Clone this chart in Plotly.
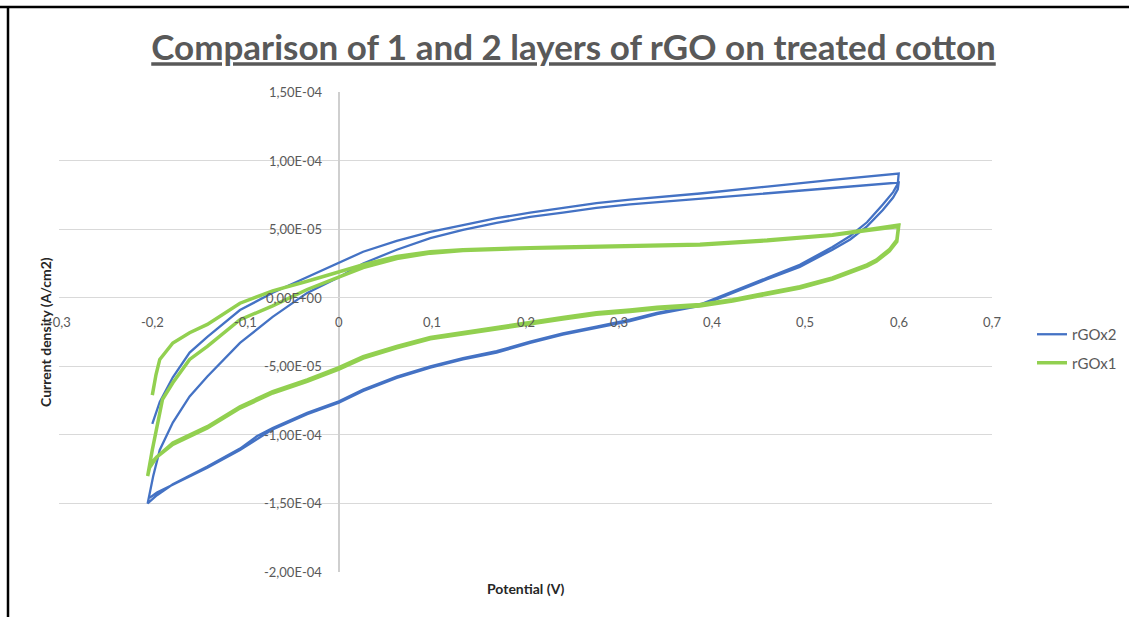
import plotly.graph_objects as go

# ---------------- data ----------------
# rGOx2 : two CV cycles, in scan order
rgox2_potential = [
    # cycle 1, forward
    -0.200, -0.192, -0.178, -0.160, -0.141, -0.106, -0.071, -0.034, 0.000, 0.026,
    0.062, 0.098, 0.133, 0.169, 0.205, 0.240, 0.276, 0.312, 0.387, 0.459, 0.529, 0.600,
    # cycle 1, reverse
    0.599, 0.594, 0.583, 0.566, 0.548, 0.529, 0.494, 0.459, 0.422, 0.387, 0.341,
    0.312, 0.276, 0.240, 0.205, 0.169, 0.133, 0.098, 0.062, 0.026, 0.000, -0.034,
    -0.071, -0.088, -0.106, -0.141, -0.178, -0.195, -0.205,
    # cycle 2, forward
    -0.199, -0.192, -0.178, -0.160, -0.141, -0.106, -0.071, -0.034, 0.000, 0.026,
    0.062, 0.098, 0.133, 0.169, 0.205, 0.240, 0.276, 0.312, 0.387, 0.459, 0.529, 0.600,
    # cycle 2, reverse
    0.599, 0.594, 0.583, 0.566, 0.548, 0.529, 0.494, 0.459, 0.422, 0.387, 0.341,
    0.312, 0.276, 0.240, 0.205, 0.169, 0.133, 0.098, 0.062, 0.026, 0.000, -0.034,
    -0.071, -0.088, -0.106, -0.141, -0.178, -0.195, -0.203,
]
rgox2_current = [
    -9.2e-5, -7.6e-5, -5.8e-5, -4.0e-5, -2.85e-5, -9.0e-6, 3.6e-6, 1.5e-5, 2.6e-5, 3.35e-5,
    4.15e-5, 4.8e-5, 5.3e-5, 5.8e-5, 6.2e-5, 6.55e-5, 6.9e-5, 7.15e-5, 7.6e-5, 8.1e-5, 8.6e-5, 9.05e-5,
    8.3e-5, 7.7e-5, 6.8e-5, 5.5e-5, 4.5e-5, 3.7e-5, 2.4e-5, 1.45e-5, 4.5e-6, -5.0e-6, -1.1e-5,
    -1.6e-5, -2.1e-5, -2.6e-5, -3.2e-5, -3.9e-5, -4.4e-5, -5.0e-5, -5.75e-5, -6.7e-5, -7.55e-5, -8.4e-5,
    -9.5e-5, -1.01e-4, -1.10e-4, -1.23e-4, -1.36e-4, -1.44e-4, -1.50e-4,
    -1.30e-4, -1.11e-4, -9.1e-5, -7.2e-5, -5.75e-5, -3.3e-5, -1.4e-5, 3.5e-6, 1.5e-5, 2.5e-5,
    3.5e-5, 4.35e-5, 4.95e-5, 5.45e-5, 5.9e-5, 6.2e-5, 6.55e-5, 6.8e-5, 7.2e-5, 7.6e-5, 8.0e-5, 8.4e-5,
    7.9e-5, 7.3e-5, 6.4e-5, 5.2e-5, 4.25e-5, 3.5e-5, 2.25e-5, 1.35e-5, 3.5e-6, -6.0e-6, -1.2e-5,
    -1.7e-5, -2.2e-5, -2.7e-5, -3.3e-5, -4.0e-5, -4.5e-5, -5.1e-5, -5.85e-5, -6.8e-5, -7.65e-5, -8.5e-5,
    -9.6e-5, -1.03e-4, -1.11e-4, -1.24e-4, -1.36e-4, -1.42e-4, -1.46e-4,
]

# rGOx1 : two CV cycles, in scan order
rgox1_potential = [
    # cycle 1, forward
    -0.200, -0.196, -0.192, -0.178, -0.160, -0.141, -0.106, -0.071, -0.034, 0.000,
    0.026, 0.062, 0.098, 0.133, 0.169, 0.205, 0.240, 0.276, 0.312, 0.387, 0.459,
    0.529, 0.566, 0.600,
    # cycle 1, reverse
    0.598, 0.590, 0.576, 0.566, 0.529, 0.494, 0.459, 0.422, 0.387, 0.341, 0.312,
    0.276, 0.240, 0.205, 0.169, 0.133, 0.098, 0.062, 0.026, 0.000, -0.034, -0.071,
    -0.106, -0.141, -0.178, -0.195, -0.203, -0.205,
    # cycle 2, forward
    -0.200, -0.189, -0.178, -0.160, -0.141, -0.106, -0.071, -0.034, 0.000,
    0.026, 0.062, 0.098, 0.133, 0.169, 0.205, 0.240, 0.276, 0.312, 0.387, 0.459,
    0.529, 0.566, 0.600,
    # cycle 2, reverse
    0.598, 0.590, 0.576, 0.566, 0.529, 0.494, 0.459, 0.422, 0.387, 0.341, 0.312,
    0.276, 0.240, 0.205, 0.169, 0.133, 0.098, 0.062, 0.026, 0.000, -0.034, -0.071,
    -0.106, -0.141, -0.178, -0.195, -0.203,
]
rgox1_current = [
    -7.1e-5, -5.6e-5, -4.5e-5, -3.3e-5, -2.55e-5, -1.95e-5, -4.0e-6, 5.0e-6, 1.2e-5, 1.9e-5,
    2.4e-5, 3.0e-5, 3.35e-5, 3.5e-5, 3.6e-5, 3.65e-5, 3.7e-5, 3.75e-5, 3.75e-5, 3.9e-5, 4.2e-5,
    4.6e-5, 4.95e-5, 5.3e-5,
    4.2e-5, 3.5e-5, 2.75e-5, 2.4e-5, 1.45e-5, 8.0e-6, 3.5e-6, -1.5e-6, -5.0e-6, -7.0e-6, -9.0e-6,
    -1.1e-5, -1.45e-5, -1.8e-5, -2.2e-5, -2.5e-5, -2.9e-5, -3.55e-5, -4.3e-5, -5.1e-5, -6.0e-5, -6.85e-5,
    -7.95e-5, -9.4e-5, -1.06e-4, -1.16e-4, -1.24e-4, -1.30e-4,
    -1.11e-4, -7.4e-5, -6.2e-5, -4.5e-5, -3.55e-5, -1.6e-5, -6.0e-6, 6.0e-6, 1.5e-5,
    2.2e-5, 2.85e-5, 3.25e-5, 3.45e-5, 3.55e-5, 3.6e-5, 3.65e-5, 3.7e-5, 3.7e-5, 3.85e-5, 4.15e-5,
    4.55e-5, 4.9e-5, 5.2e-5,
    4.1e-5, 3.4e-5, 2.65e-5, 2.3e-5, 1.35e-5, 7.0e-6, 2.5e-6, -2.5e-6, -6.0e-6, -8.0e-6, -1.0e-5,
    -1.2e-5, -1.55e-5, -1.9e-5, -2.3e-5, -2.6e-5, -3.0e-5, -3.65e-5, -4.4e-5, -5.2e-5, -6.1e-5, -6.95e-5,
    -8.05e-5, -9.5e-5, -1.07e-4, -1.16e-4, -1.22e-4,
]

x_ticks = [-0.3, -0.2, -0.1, 0.0, 0.1, 0.2, 0.3, 0.4, 0.5, 0.6, 0.7]
x_tick_labels = ["-0,3", "-0,2", "-0,1", "0", "0,1", "0,2", "0,3", "0,4", "0,5", "0,6", "0,7"]
y_ticks = [1.5e-4, 1.0e-4, 5.0e-5, 0.0, -5.0e-5, -1.0e-4, -1.5e-4, -2.0e-4]
y_tick_labels = ["1,50E-04", "1,00E-04", "5,00E-05", "0,00E+00",
                 "-5,00E-05", "-1,00E-04", "-1,50E-04", "-2,00E-04"]

title_text = "Comparison of 1 and 2 layers of rGO on treated cotton"
x_title = "Potential (V)"
y_title = "Current density (A/cm2)"

# ---------------- figure ----------------
W, H = 1129, 617
ML, MR, MT, MB = 59, 137, 92, 45
PW, PH = W - ML - MR, H - MT - MB


def px(xp):
    return (xp - ML) / PW


def py(yp):
    return (H - MB - yp) / PH


TICK_FONT = dict(family="Lato, 'Open Sans', sans-serif", size=13, color="#595959")
GRAY = "#595959"

fig = go.Figure()
fig.add_trace(go.Scatter(
    x=rgox2_potential, y=rgox2_current, mode="lines", name="rGOx2",
    line=dict(color="#4472C4", width=2.3), legendgroup="a",
))
fig.add_trace(go.Scatter(
    x=rgox1_potential, y=rgox1_current, mode="lines", name="rGOx1",
    line=dict(color="#92D050", width=3.5), legendgroup="b",
))

annotations = []
for v, t in zip(x_ticks, x_tick_labels):
    annotations.append(dict(x=v, y=0, xref="x", yref="y", text=t, showarrow=False,
                            xanchor="center", yanchor="middle", yshift=-24, font=TICK_FONT))
for v, t in zip(y_ticks, y_tick_labels):
    annotations.append(dict(x=0, y=v, xref="x", yref="y", text=t, showarrow=False,
                            xanchor="right", yanchor="middle", xshift=-15, font=TICK_FONT))
annotations.append(dict(x=0.5, y=py(588), xref="paper", yref="paper", text="<b>" + x_title + "</b>",
                        showarrow=False, xanchor="center", yanchor="middle",
                        font=dict(family="Lato, sans-serif", size=14, color="#262626")))
annotations.append(dict(x=px(45), y=0.5, xref="paper", yref="paper", text="<b>" + y_title + "</b>",
                        showarrow=False, xanchor="center", yanchor="middle", textangle=-90,
                        font=dict(family="Lato, sans-serif", size=14, color="#262626")))

fig.update_layout(
    width=W, height=H,
    margin=dict(l=ML, r=MR, t=MT, b=MB, autoexpand=False),
    paper_bgcolor="white", plot_bgcolor="white",
    title=dict(text="<b>" + title_text + "</b>", x=573.5 / W, xanchor="center",
               y=1 - 48 / H, yanchor="middle",
               font=dict(family="Lato, sans-serif", size=35, color=GRAY, lineposition="under")),
    xaxis=dict(range=[-0.3, 0.7], showgrid=False, showticklabels=False, ticks="",
               zeroline=True, zerolinecolor="#cfcfcf", zerolinewidth=1.5, showline=False,
               fixedrange=True),
    yaxis=dict(range=[-2.0e-4, 1.5e-4], dtick=5e-5, tick0=0, showgrid=True,
               gridcolor="#d9d9d9", gridwidth=1, showticklabels=False, ticks="",
               zeroline=True, zerolinecolor="#d9d9d9", zerolinewidth=1, showline=False,
               fixedrange=True),
    legend=dict(x=px(1032), y=py(318), xanchor="left", yanchor="top",
                font=dict(family="Lato, sans-serif", size=15, color=GRAY),
                tracegroupgap=6, bgcolor="rgba(0,0,0,0)"),
    annotations=annotations,
    shapes=[
        dict(type="line", xref="paper", yref="paper", x0=px(0), x1=px(W), y0=py(7), y1=py(7),
             line=dict(color="black", width=2.5)),
        dict(type="line", xref="paper", yref="paper", x0=px(8), x1=px(8), y0=py(6), y1=py(H),
             line=dict(color="black", width=2.5)),
    ],
)

fig.write_html("out.html")
